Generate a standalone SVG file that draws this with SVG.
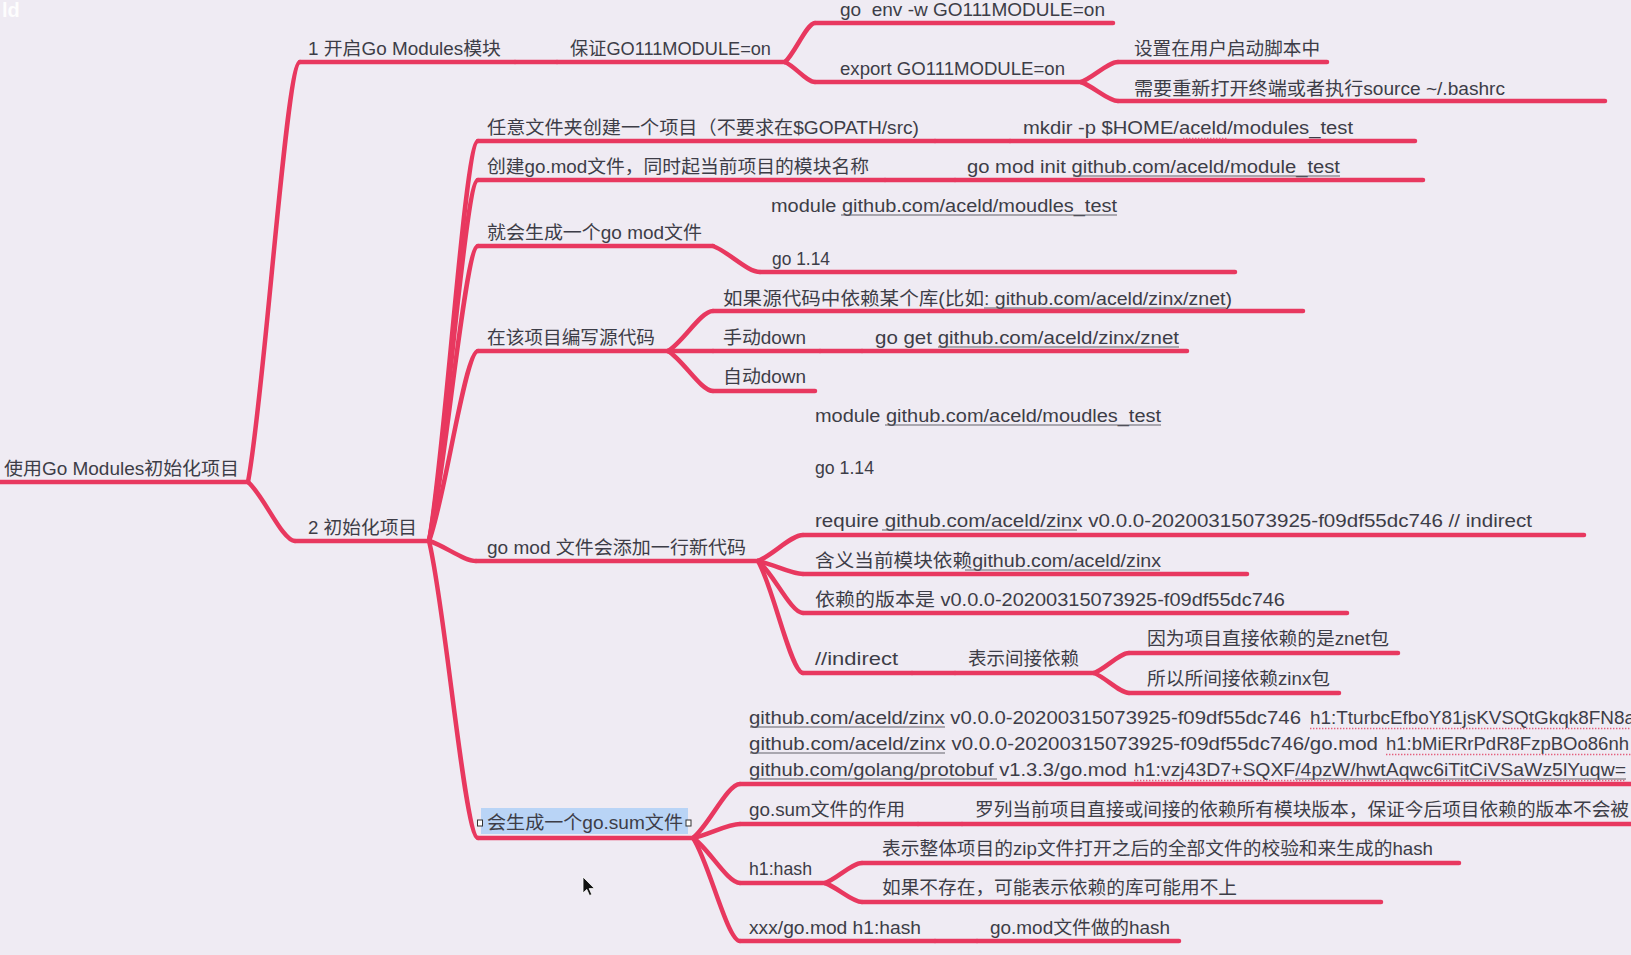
<svg xmlns="http://www.w3.org/2000/svg" width="1631" height="955" viewBox="0 0 1631 955">
<style>
.t{font-family:"Liberation Sans","Noto Sans CJK SC",sans-serif;font-size:18.7px;fill:#3d3d47}
.u{stroke:#e8385f;stroke-width:4.5;stroke-linecap:round;fill:none}
.c path,.c line{stroke:#e8385f;stroke-width:4.5;stroke-linecap:round;fill:none}
.lk{stroke:#65656d;stroke-width:1.2}
.sp{stroke:#e4607e;stroke-width:1.4;stroke-dasharray:1.4 1.6}
</style>
<rect width="1631" height="955" fill="#efebf3"/>
<text x="2" y="17" font-family="Liberation Sans, sans-serif" font-size="20" font-weight="bold" fill="#ffffff" opacity="0.9">ld</text>

<g id="connectors" class="c">
<path d="M248,482 C265.2,389.6 286,62 300,62"/>
<path d="M248,482 C263.5,495 282.3,541 295,541"/>
<line x1="515" y1="62" x2="557" y2="62"/>
<path d="M785,62 C794.9,53.4 806.9,23 815,23"/>
<path d="M785,62 C794.9,66.4 806.9,82 815,82"/>
<path d="M1081,82 C1093.2,77.6 1108,62 1118,62"/>
<path d="M1081,82 C1093.2,86.2 1108,101 1118,101"/>
<path d="M429,541 C445.2,453 464.8,141 478,141"/>
<path d="M429,541 C445.2,461.6 464.8,180 478,180"/>
<path d="M429,541 C445.2,476.1 464.8,246 478,246"/>
<path d="M429,541 C445.2,499.2 464.8,351 478,351"/>
<path d="M429,541 C444.5,545.4 463.3,561 476,561"/>
<path d="M429,541 C445.2,606.3 464.8,838 478,838"/>
<line x1="935" y1="141" x2="1010" y2="141"/>
<line x1="885" y1="180" x2="955" y2="180"/>
<path d="M713,246 C728.5,251.7 747.3,272 760,272"/>
<path d="M668,351 C682.9,342.2 700.9,311 713,311"/>
<line x1="668" y1="351" x2="713" y2="351"/>
<path d="M668,351 C682.9,359.8 700.9,391 713,391"/>
<line x1="820" y1="351" x2="862" y2="351"/>
<path d="M758,561 C772.9,555.3 790.9,535 803,535"/>
<path d="M758,561 C772.9,563.9 790.9,574 803,574"/>
<path d="M758,561 C772.9,572.4 790.9,613 803,613"/>
<path d="M758,561 C772.9,585.6 790.9,673 803,673"/>
<line x1="912" y1="673" x2="955" y2="673"/>
<path d="M1094,673 C1105.6,668.6 1119.6,653 1129,653"/>
<path d="M1094,673 C1105.6,677.4 1119.6,693 1129,693"/>
<path d="M693,838 C708.5,826.1 727.3,784 740,784"/>
<path d="M693,838 C708.5,834.9 727.3,824 740,824"/>
<path d="M693,838 C708.5,847.9 727.3,883 740,883"/>
<path d="M693,838 C708.5,860.7 727.3,941 740,941"/>
<line x1="918" y1="824" x2="962" y2="824"/>
<path d="M825,883 C837.2,878.6 852,863 862,863"/>
<path d="M825,883 C837.2,887.2 852,902 862,902"/>
<line x1="935" y1="941" x2="977" y2="941"/>
</g>

<g id="root"><line class="u" x1="-5" y1="482" x2="248" y2="482"/><text class="t" x="4" y="475" textLength="235" lengthAdjust="spacingAndGlyphs">使用Go Modules初始化项目</text></g>

<g id="n1"><line class="u" x1="300" y1="62" x2="515" y2="62"/><text class="t" x="308" y="55" textLength="193" lengthAdjust="spacingAndGlyphs">1 开启Go Modules模块</text></g>
<g id="n1-1"><line class="u" x1="557" y1="62" x2="785" y2="62"/><text class="t" x="570" y="55" textLength="201" lengthAdjust="spacingAndGlyphs">保证GO111MODULE=on</text></g>
<g id="n1-1-1"><line class="u" x1="815" y1="23" x2="1113" y2="23"/><text class="t" x="840" y="16" xml:space="preserve" textLength="265" lengthAdjust="spacingAndGlyphs">go  env -w GO111MODULE=on</text></g>
<g id="n1-1-2"><line class="u" x1="815" y1="82" x2="1081" y2="82"/><text class="t" x="840" y="75" textLength="225" lengthAdjust="spacingAndGlyphs">export GO111MODULE=on</text></g>
<g id="n1-1-2-1"><line class="u" x1="1118" y1="62" x2="1327" y2="62"/><text class="t" x="1134" y="55" textLength="186" lengthAdjust="spacingAndGlyphs">设置在用户启动脚本中</text></g>
<g id="n1-1-2-2"><line class="u" x1="1118" y1="101" x2="1605" y2="101"/><text class="t" x="1134" y="95" textLength="371" lengthAdjust="spacingAndGlyphs">需要重新打开终端或者执行source ~/.bashrc</text></g>

<g id="n2"><line class="u" x1="295" y1="541" x2="429" y2="541"/><text class="t" x="308" y="534" textLength="109" lengthAdjust="spacingAndGlyphs">2 初始化项目</text></g>

<g id="n2-1"><line class="u" x1="478" y1="141" x2="935" y2="141"/><text class="t" x="487" y="134" textLength="432" lengthAdjust="spacingAndGlyphs">任意文件夹创建一个项目（不要求在$GOPATH/src)</text></g>
<g id="n2-1-1"><line class="u" x1="1010" y1="141" x2="1415" y2="141"/><text class="t" x="1023" y="134" textLength="330" lengthAdjust="spacingAndGlyphs">mkdir -p $HOME/aceld/modules_test</text><line class="sp" x1="1183" y1="138.5" x2="1228" y2="138.5"/></g>

<g id="n2-2"><line class="u" x1="478" y1="180" x2="885" y2="180"/><text class="t" x="487" y="173" textLength="382" lengthAdjust="spacingAndGlyphs">创建go.mod文件，同时起当前项目的模块名称</text></g>
<g id="n2-2-1"><line class="u" x1="955" y1="180" x2="1423" y2="180"/><text class="t" x="967" y="173" textLength="373" lengthAdjust="spacingAndGlyphs">go mod init github.com/aceld/module_test</text><line class="lk" x1="1073" y1="176" x2="1340" y2="176"/></g>

<g id="n2-3"><line class="u" x1="478" y1="246" x2="713" y2="246"/><text class="t" x="487" y="239" textLength="215" lengthAdjust="spacingAndGlyphs">就会生成一个go mod文件</text></g>
<g id="n2-3-1"><line class="u" x1="760" y1="272" x2="1235" y2="272"/><text class="t" x="771" y="212" textLength="346" lengthAdjust="spacingAndGlyphs">module github.com/aceld/moudles_test</text><line class="lk" x1="841" y1="215" x2="1117" y2="215"/><text class="t" x="772" y="265" textLength="58" lengthAdjust="spacingAndGlyphs">go 1.14</text></g>

<g id="n2-4"><line class="u" x1="478" y1="351" x2="668" y2="351"/><text class="t" x="487" y="344" textLength="168" lengthAdjust="spacingAndGlyphs">在该项目编写源代码</text></g>
<g id="n2-4-1"><line class="u" x1="713" y1="311" x2="1303" y2="311"/><text class="t" x="723" y="305" textLength="509" lengthAdjust="spacingAndGlyphs">如果源代码中依赖某个库(比如: github.com/aceld/zinx/znet)</text><line class="lk" x1="984" y1="308" x2="1226" y2="308"/></g>
<g id="n2-4-2"><line class="u" x1="713" y1="351" x2="820" y2="351"/><text class="t" x="723" y="344" textLength="83" lengthAdjust="spacingAndGlyphs">手动down</text></g>
<g id="n2-4-2-1"><line class="u" x1="862" y1="351" x2="1187" y2="351"/><text class="t" x="875" y="344" textLength="304" lengthAdjust="spacingAndGlyphs">go get github.com/aceld/zinx/znet</text><line class="lk" x1="938" y1="347" x2="1179" y2="347"/></g>
<g id="n2-4-3"><line class="u" x1="713" y1="391" x2="815" y2="391"/><text class="t" x="723" y="383" textLength="83" lengthAdjust="spacingAndGlyphs">自动down</text></g>

<g id="n2-5"><line class="u" x1="476" y1="561" x2="758" y2="561"/><text class="t" x="487" y="554" textLength="259" lengthAdjust="spacingAndGlyphs">go mod 文件会添加一行新代码</text></g>
<g id="n2-5-1"><line class="u" x1="803" y1="535" x2="1584" y2="535"/>
<text class="t" x="815" y="422" textLength="346" lengthAdjust="spacingAndGlyphs">module github.com/aceld/moudles_test</text><line class="lk" x1="885" y1="425" x2="1161" y2="425"/>
<text class="t" x="815" y="474" textLength="59" lengthAdjust="spacingAndGlyphs">go 1.14</text>
<text class="t" x="815" y="527" textLength="717" lengthAdjust="spacingAndGlyphs">require github.com/aceld/zinx v0.0.0-20200315073925-f09df55dc746 // indirect</text><line class="lk" x1="882" y1="530" x2="1077" y2="530"/></g>
<g id="n2-5-2"><line class="u" x1="803" y1="574" x2="1247" y2="574"/><text class="t" x="815" y="567" textLength="346" lengthAdjust="spacingAndGlyphs">含义当前模块依赖github.com/aceld/zinx</text><line class="lk" x1="965" y1="570" x2="1160" y2="570"/></g>
<g id="n2-5-3"><line class="u" x1="803" y1="613" x2="1347" y2="613"/><text class="t" x="815" y="606" textLength="470" lengthAdjust="spacingAndGlyphs">依赖的版本是 v0.0.0-20200315073925-f09df55dc746</text></g>
<g id="n2-5-4"><line class="u" x1="803" y1="673" x2="912" y2="673"/><text class="t" x="815" y="665" textLength="83" lengthAdjust="spacingAndGlyphs">//indirect</text></g>
<g id="n2-5-4-1"><line class="u" x1="955" y1="673" x2="1094" y2="673"/><text class="t" x="968" y="665" textLength="111" lengthAdjust="spacingAndGlyphs">表示间接依赖</text></g>
<g id="n2-5-4-1-1"><line class="u" x1="1129" y1="653" x2="1398" y2="653"/><text class="t" x="1147" y="645" textLength="242" lengthAdjust="spacingAndGlyphs">因为项目直接依赖的是znet包</text></g>
<g id="n2-5-4-1-2"><line class="u" x1="1129" y1="693" x2="1339" y2="693"/><text class="t" x="1147" y="685" textLength="183" lengthAdjust="spacingAndGlyphs">所以所间接依赖zinx包</text></g>

<g id="n2-6"><line class="u" x1="478" y1="838" x2="693" y2="838"/>
<rect x="481" y="808" width="207" height="26" fill="#b9d4f6"/>
<rect x="477.5" y="820" width="5" height="6" fill="#ffffff" stroke="#333" stroke-width="1"/>
<rect x="686" y="820" width="5" height="6" fill="#ffffff" stroke="#333" stroke-width="1"/>
<text class="t" x="487" y="829" textLength="196" lengthAdjust="spacingAndGlyphs">会生成一个go.sum文件</text></g>
<g id="n2-6-1"><line class="u" x1="740" y1="784" x2="1640" y2="784"/>
<text class="t" x="749" y="724" textLength="552" lengthAdjust="spacingAndGlyphs">github.com/aceld/zinx v0.0.0-20200315073925-f09df55dc746</text>
<text class="t" x="1310" y="724" textLength="325" lengthAdjust="spacingAndGlyphs">h1:TturbcEfboY81jsKVSQtGkqk8FN8a</text>
<text class="t" x="749" y="750" textLength="629" lengthAdjust="spacingAndGlyphs">github.com/aceld/zinx v0.0.0-20200315073925-f09df55dc746/go.mod</text>
<text class="t" x="1386" y="750" textLength="243" lengthAdjust="spacingAndGlyphs">h1:bMiERrPdR8FzpBOo86nh</text>
<text class="t" x="749" y="776" textLength="378" lengthAdjust="spacingAndGlyphs">github.com/golang/protobuf v1.3.3/go.mod</text>
<text class="t" x="1134" y="776" textLength="492" lengthAdjust="spacingAndGlyphs">h1:vzj43D7+SQXF/4pzW/hwtAqwc6iTitCiVSaWz5lYuqw=</text>
<line class="lk" x1="750" y1="727" x2="945" y2="727"/>
<line class="lk" x1="750" y1="753" x2="945" y2="753"/>
<line class="lk" x1="750" y1="779" x2="997" y2="779"/>
<line class="lk" x1="1295" y1="779" x2="1626" y2="779"/>
<line class="sp" x1="1310" y1="728.5" x2="1631" y2="728.5"/>
<line class="sp" x1="1386" y1="754.5" x2="1631" y2="754.5"/>
<line class="sp" x1="1134" y1="780.5" x2="1626" y2="780.5"/>
</g>
<g id="n2-6-2"><line class="u" x1="740" y1="824" x2="918" y2="824"/><text class="t" x="749" y="816" textLength="156" lengthAdjust="spacingAndGlyphs">go.sum文件的作用</text></g>
<g id="n2-6-2-1"><line class="u" x1="962" y1="824" x2="1640" y2="824"/><text class="t" x="975" y="816">罗列当前项目直接或间接的依赖所有模块版本，保证今后项目依赖的版本不会被</text></g>
<g id="n2-6-3"><line class="u" x1="740" y1="883" x2="825" y2="883"/><text class="t" x="749" y="875" textLength="63" lengthAdjust="spacingAndGlyphs">h1:hash</text></g>
<g id="n2-6-3-1"><line class="u" x1="862" y1="863" x2="1459" y2="863"/><text class="t" x="882" y="855" textLength="551" lengthAdjust="spacingAndGlyphs">表示整体项目的zip文件打开之后的全部文件的校验和来生成的hash</text></g>
<g id="n2-6-3-2"><line class="u" x1="862" y1="902" x2="1381" y2="902"/><text class="t" x="882" y="894" textLength="355" lengthAdjust="spacingAndGlyphs">如果不存在，可能表示依赖的库可能用不上</text></g>
<g id="n2-6-4"><line class="u" x1="740" y1="941" x2="935" y2="941"/><text class="t" x="749" y="934" textLength="172" lengthAdjust="spacingAndGlyphs">xxx/go.mod h1:hash</text></g>
<g id="n2-6-4-1"><line class="u" x1="977" y1="941" x2="1179" y2="941"/><text class="t" x="990" y="934" textLength="180" lengthAdjust="spacingAndGlyphs">go.mod文件做的hash</text></g>

<path d="M583,877 L583,893 L586.8,889.4 L589.5,895.5 L591.8,894.5 L589.2,888.6 L594.5,888.6 Z" fill="#111" stroke="#fff" stroke-width="0.8"/>
</svg>
